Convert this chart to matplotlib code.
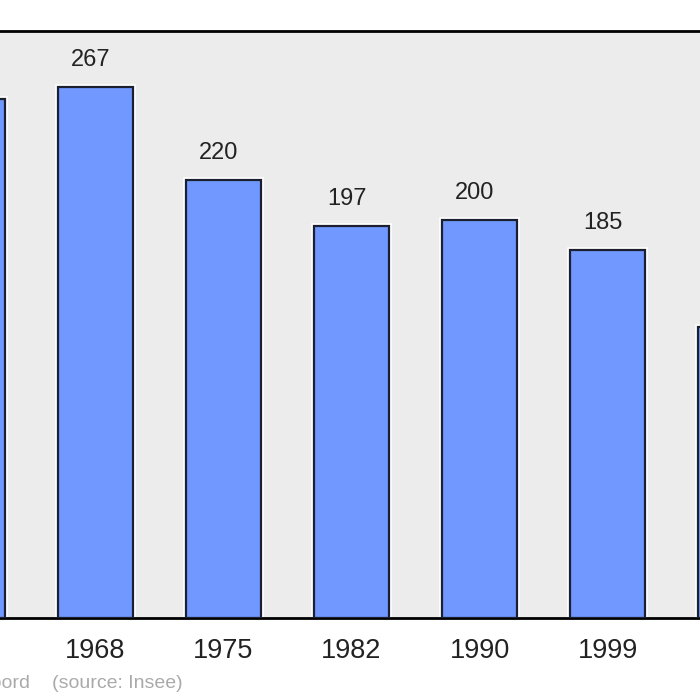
import matplotlib
matplotlib.use('Agg')
import matplotlib.pyplot as plt
import numpy as np

# Population per census year (first and last bar are cut off in the reference)
years = ['1962', '1968', '1975', '1982', '1990', '1999', '2008']
population = [261, 267, 220, 197, 200, 185, 146]

plt.rcParams['font.family'] = ['Liberation Sans', 'DejaVu Sans']

fig = plt.figure(figsize=(7, 7), dpi=100)

# axes placed in pixel terms so the view is cropped like the reference
left_px, right_px = -100, 800
top_px, bottom_px = 31, 618
ax = fig.add_axes([left_px / 700, 1 - bottom_px / 700,
                   (right_px - left_px) / 700, (bottom_px - top_px) / 700])
ax.set_facecolor('#ececec')

x = np.arange(len(years))
ax.bar(x, population, width=0.586, color='#7098ff', edgecolor='white', linewidth=4, zorder=2)
ax.bar(x, population, width=0.586, color='#7098ff', edgecolor='#1c1f2e', linewidth=1.6, zorder=3)

for xi, v in zip(x, population):
    ax.annotate(str(v), (xi, v), xytext=(-3.5, 11.5), textcoords='offset points',
                ha='center', va='bottom', fontsize=17, color='#222222')

# one data unit = 128 px, 1968 bar centred at 95.5 px
ax.set_xlim(1 + (left_px - 95.5) / 128, 1 + (right_px - 95.5) / 128)
ax.set_ylim(0, 295)
ax.set_xticks(x)
ax.set_xticklabels(years, fontsize=19.5, color='#222222')
ax.tick_params(axis='x', length=0, pad=14.5)
ax.set_yticks([])

for s in ['top', 'bottom', 'left', 'right']:
    ax.spines[s].set_linewidth(2)
    ax.spines[s].set_color('black')

fig.text(30 / 700, 1 - 683 / 700, 'Grasboord', ha='right', va='center', fontsize=14, color='#aaaaaa')
fig.text(52 / 700, 1 - 683 / 700, '(source: Insee)', ha='left', va='center', fontsize=14, color='#aaaaaa')

fig.savefig('out.png', dpi=100)
